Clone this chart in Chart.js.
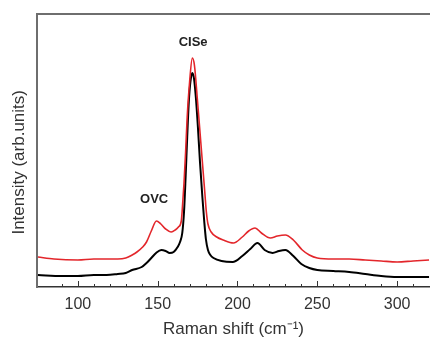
<!DOCTYPE html>
<html>
<head>
<meta charset="utf-8">
<script src="https://cdn.jsdelivr.net/npm/chart.js@4"></script>
<style>
  html, body { margin: 0; padding: 0; background: #fff; overflow: hidden; }
  #wrap { width: 438px; height: 340px; position: relative; }
</style>
</head>
<body>
<div id="wrap"><canvas id="raman"></canvas></div>
<script>
// --- Data (arbitrary intensity units) ---
const shiftBlack = [75, 90, 100, 110, 118, 125, 130, 134, 140, 143, 146, 149, 152.3, 155, 157.5, 160, 162.5, 164, 165.4, 166.5, 167.5, 168.5, 169.5, 170.5, 171.7, 172.8, 174, 175.2, 176.5, 178, 179.2, 180.2, 181.5, 183, 185, 190, 197, 203, 208, 212.5, 217, 222, 226, 230, 235, 240, 245, 250, 260, 270, 280, 290, 300, 310, 320];
const blackIntensity = [12, 11, 11, 12, 12, 13, 14, 17, 20, 24, 29, 34, 37, 36, 34, 35, 40, 45, 54, 75, 110, 150, 185, 205, 214, 208, 188, 160, 125, 90, 65, 48, 37, 32, 29, 26, 25, 31, 38, 44, 37, 34, 36, 37, 31, 23, 19, 17, 16, 15, 13, 11, 10, 10, 10];
const shiftRed = [75, 85, 100, 110, 118, 125, 130, 134, 137, 140.6, 143, 146, 149.2, 152, 155, 158.5, 161, 163, 164.8, 165.8, 166.5, 167.5, 168.5, 170, 171.7, 173, 175, 177, 178.5, 179.5, 180.5, 181.5, 183.5, 187, 191, 197.5, 203, 207, 211, 215, 220.6, 225, 230, 235, 240.6, 245, 250, 260, 270, 280, 290, 300, 310, 320];
const redIntensity = [30, 28, 27, 28, 28, 28, 29, 32, 35, 40, 45, 56, 66, 63, 58, 55, 57, 60, 66, 87, 104, 135, 170, 205, 229, 222, 185, 145, 115, 95, 75, 63, 55, 50, 47, 44, 50, 56, 59, 54, 49, 51, 52, 47, 37, 32, 29, 28, 28, 27, 26, 25, 26, 27];
const peakLabels = [
  { text: 'CISe', x: 172.2, y: 245 },
  { text: 'OVC', x: 147.8, y: 88 },
];
const xMin = 74.4, xMax = 320.6, yMin = 0, yMax = 273;
const majorStep = 50, minorStep = 10;

const toPoints = (xs, ys) => xs.map((x, i) => ({ x, y: ys[i] }));
const FONT = '"Liberation Sans", Arial, sans-serif';

// frame (top line), inward ticks, peak labels
const decor = {
  id: 'decor',
  afterDraw(chart) {
    const { ctx, chartArea: a, scales: { x, y } } = chart;
    ctx.save();
    ctx.strokeStyle = '#6e6e6e';
    ctx.lineWidth = 2;
    ctx.beginPath();
    ctx.moveTo(a.left - 1, a.top);
    ctx.lineTo(a.right + 10, a.top);
    ctx.stroke();

    ctx.strokeStyle = '#333';
    ctx.lineWidth = 1;
    for (const t of x.ticks) {
      if (Math.abs(t.value / minorStep - Math.round(t.value / minorStep)) > 1e-6) continue;
      const px = Math.round(x.getPixelForValue(t.value)) + 0.5;
      const len = t.value % majorStep === 0 ? 6 : 3;
      ctx.beginPath();
      ctx.moveTo(px, a.bottom);
      ctx.lineTo(px, a.bottom - len);
      ctx.stroke();
    }

    ctx.fillStyle = '#222';
    ctx.font = 'bold 13px ' + FONT;
    ctx.textAlign = 'center';
    ctx.textBaseline = 'middle';
    for (const p of peakLabels) {
      ctx.fillText(p.text, x.getPixelForValue(p.x), y.getPixelForValue(p.y));
    }
    ctx.restore();
  },
};

new Chart(document.getElementById('raman'), {
  type: 'line',
  data: {
    datasets: [
      {
        label: 'red',
        data: toPoints(shiftRed, redIntensity),
        borderColor: '#e3262b',
        borderWidth: 1.6,
        pointRadius: 0,
        cubicInterpolationMode: 'monotone',
      },
      {
        label: 'black',
        data: toPoints(shiftBlack, blackIntensity),
        borderColor: '#000',
        borderWidth: 2,
        pointRadius: 0,
        cubicInterpolationMode: 'monotone',
      },
    ],
  },
  options: {
    responsive: true,
    maintainAspectRatio: false,
    animation: false,
    layout: { padding: { top: 14, left: 0, right: 0, bottom: 0 } },
    plugins: { legend: { display: false }, tooltip: { enabled: false } },
    scales: {
      x: {
        type: 'linear',
        min: xMin,
        max: xMax,
        afterFit: s => { s.height = 53; },
        grid: { display: false, drawTicks: false },
        border: { display: true, color: '#333', width: 1.5 },
        ticks: {
          stepSize: minorStep,
          autoSkip: false,
          maxRotation: 0,
          padding: 8,
          color: '#333',
          font: { family: FONT, size: 16 },
          callback: v => (v % majorStep === 0 ? String(v) : ''),
        },
        title: {
          display: true,
          text: 'Raman shift (cm⁻¹)',
          color: '#333',
          padding: { top: 2, bottom: 0 },
          font: { family: FONT, size: 17 },
        },
      },
      y: {
        min: yMin,
        max: yMax,
        afterFit: s => { s.width = 37; },
        grid: { display: false, drawTicks: false },
        border: { display: true, color: '#6e6e6e', width: 2 },
        ticks: { display: false },
        title: {
          display: true,
          text: 'Intensity (arb.units)\u00a0\u00a0\u00a0\u00a0\u00a0',
          color: '#333',
          padding: { top: 9, bottom: 0 },
          font: { family: FONT, size: 17 },
        },
      },
    },
  },
  plugins: [decor],
});
</script>
</body>
</html>
